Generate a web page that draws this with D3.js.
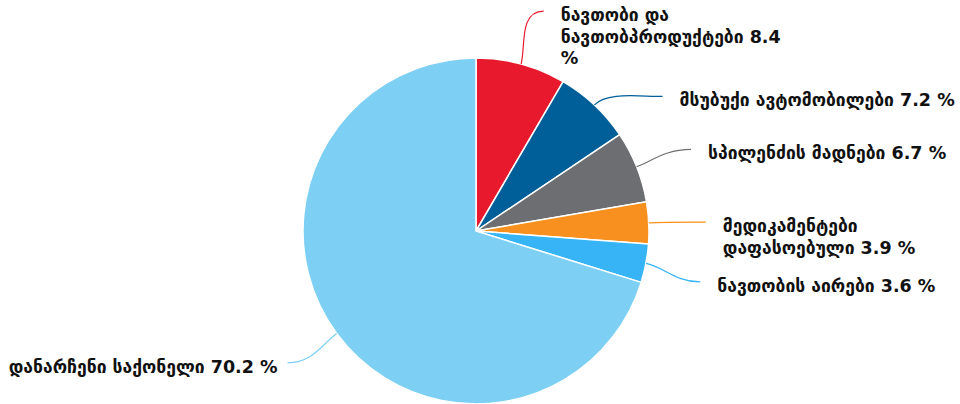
<!DOCTYPE html>
<html>
<head>
<meta charset="utf-8">
<script src="https://cdn.jsdelivr.net/npm/d3@7"></script>
<style>
  body { margin: 0; background: #fff; }
  svg text { font-family: "DejaVu Sans", sans-serif; font-weight: bold; font-size: 17.5px; fill: #111; }
</style>
</head>
<body>
<svg></svg>
<script>
var categories = [
  ["ნავთობი და", "ნავთობპროდუქტები 8.4", "%"],
  ["მსუბუქი ავტომობილები 7.2 %"],
  ["სპილენძის მადნები 6.7 %"],
  ["მედიკამენტები", "დაფასოებული 3.9 %"],
  ["ნავთობის აირები 3.6 %"],
  ["დანარჩენი საქონელი 70.2 %"]
];
var values = [8.4, 7.2, 6.7, 3.9, 3.6, 70.2];
var colors = ["#e8192c", "#005f98", "#6d6e71", "#f7901e", "#36b4f5", "#7dd0f4"];
// label angle nudge (degrees) so labels don't collide
var labelShift = [2, 11, 1, 0.5, 2, 1.4];

var screen = { width: 960, height: 404 };
var cx = 476, cy = 231, r = 173;

var svg = d3.select("svg")
            .attr("width", screen.width)
            .attr("height", screen.height);

var pie = d3.pie().sort(null).value(function(d){ return d; });
var arcs = pie(values);

var arc = d3.arc().innerRadius(0).outerRadius(r);

var g = svg.append("g").attr("transform", "translate(" + cx + "," + cy + ")");

g.selectAll("path.slice")
 .data(arcs)
 .enter()
 .append("path")
 .attr("class", "slice")
 .attr("d", arc)
 .attr("fill", function(d, i){ return colors[i]; })
 .attr("stroke", "#fff")
 .attr("stroke-width", 1.5)
 .attr("stroke-linejoin", "round");

var polar = function(rad, ang) {
  return [rad * Math.sin(ang), -rad * Math.cos(ang)];
};

var labels = g.selectAll("g.label")
              .data(arcs)
              .enter()
              .append("g")
              .attr("class", "label");

labels.each(function(d, i) {
  var mid = (d.startAngle + d.endAngle) / 2;
  var la = mid + labelShift[i] * Math.PI / 180;
  var p0 = polar(r, mid);
  var p1 = polar(r + 18, mid);
  var end = polar(r + 57, la);
  var right = end[0] > 0;
  var c2 = [end[0] + (right ? -25 : 25), end[1]];

  d3.select(this).append("path")
    .attr("d", "M" + p0 + "C" + p1 + " " + c2 + " " + end)
    .attr("fill", "none")
    .attr("stroke", colors[i])
    .attr("stroke-width", 1.2);

  var tx = right ? end[0] + 17 : end[0] - 10;
  var t = d3.select(this).append("text")
    .attr("x", tx)
    .attr("y", end[1] + 10)
    .attr("text-anchor", right ? "start" : "end");
  t.selectAll("tspan")
   .data(categories[i])
   .enter()
   .append("tspan")
   .attr("x", tx)
   .attr("dy", function(s, j){ return j == 0 ? 0 : 21.5; })
   .text(function(s){ return s; });
});
</script>
</body>
</html>
